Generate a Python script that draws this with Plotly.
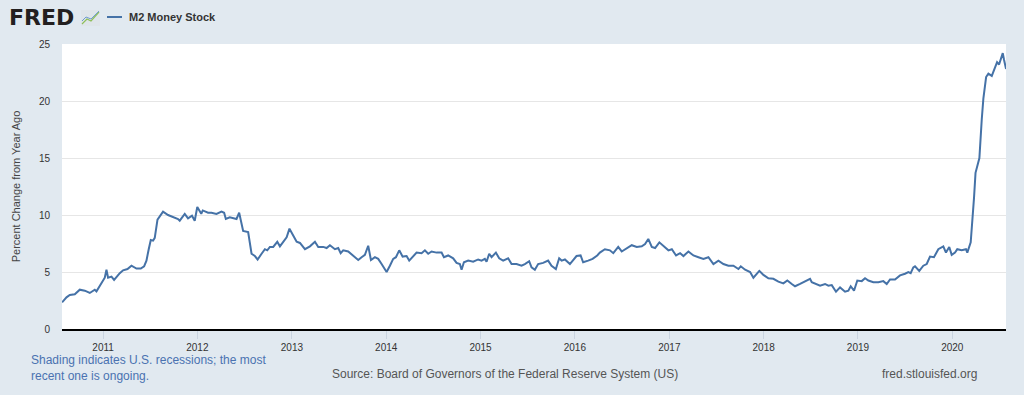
import numpy as np
import pandas as pd
import plotly.graph_objects as go

# ---------------- data ----------------
series_name = "M2 Money Stock"
y_title = "Percent Change from Year Ago"

# observation times as decimal years
decimal_years = [
    2010.565, 2010.612, 2010.647, 2010.700, 2010.753, 2010.806, 2010.859, 2010.912, 2010.930, 2010.983,
    2011.018, 2011.036, 2011.053, 2011.089, 2011.117, 2011.177, 2011.212, 2011.259, 2011.301, 2011.354,
    2011.400, 2011.435, 2011.460, 2011.484, 2011.506, 2011.530, 2011.548, 2011.577, 2011.636, 2011.689,
    2011.742, 2011.795, 2011.813, 2011.866, 2011.901, 2011.943, 2011.972, 2011.999, 2012.041, 2012.057,
    2012.113, 2012.149, 2012.202, 2012.255, 2012.283, 2012.301, 2012.343, 2012.389, 2012.414, 2012.442,
    2012.484, 2012.537, 2012.573, 2012.608, 2012.637, 2012.679, 2012.714, 2012.739, 2012.767, 2012.802,
    2012.845, 2012.873, 2012.908, 2012.944, 2012.974, 2013.014, 2013.050, 2013.085, 2013.138, 2013.191,
    2013.244, 2013.279, 2013.332, 2013.368, 2013.403, 2013.456, 2013.491, 2013.517, 2013.544, 2013.597,
    2013.650, 2013.703, 2013.739, 2013.774, 2013.809, 2013.838, 2013.880, 2013.915, 2013.951, 2014.004,
    2014.039, 2014.074, 2014.103, 2014.138, 2014.174, 2014.216, 2014.244, 2014.286, 2014.322, 2014.375,
    2014.410, 2014.445, 2014.481, 2014.534, 2014.587, 2014.612, 2014.657, 2014.710, 2014.746, 2014.781,
    2014.799, 2014.824, 2014.869, 2014.922, 2014.975, 2015.011, 2015.046, 2015.064, 2015.092, 2015.117,
    2015.163, 2015.198, 2015.240, 2015.293, 2015.329, 2015.382, 2015.435, 2015.470, 2015.516, 2015.541,
    2015.576, 2015.611, 2015.664, 2015.717, 2015.753, 2015.799, 2015.834, 2015.860, 2015.895, 2015.948,
    2015.982, 2016.018, 2016.061, 2016.088, 2016.141, 2016.188, 2016.237, 2016.265, 2016.318, 2016.371,
    2016.407, 2016.459, 2016.496, 2016.549, 2016.602, 2016.655, 2016.708, 2016.743, 2016.777, 2016.814,
    2016.849, 2016.894, 2016.937, 2016.990, 2017.026, 2017.071, 2017.114, 2017.149, 2017.202, 2017.255,
    2017.308, 2017.361, 2017.414, 2017.467, 2017.520, 2017.573, 2017.626, 2017.679, 2017.732, 2017.757,
    2017.803, 2017.856, 2017.891, 2017.954, 2017.997, 2018.050, 2018.103, 2018.156, 2018.209, 2018.251,
    2018.298, 2018.333, 2018.386, 2018.439, 2018.492, 2018.510, 2018.563, 2018.598, 2018.651, 2018.686,
    2018.722, 2018.767, 2018.810, 2018.863, 2018.898, 2018.923, 2018.958, 2018.993, 2019.040, 2019.075,
    2019.110, 2019.163, 2019.216, 2019.269, 2019.305, 2019.340, 2019.393, 2019.446, 2019.499, 2019.534,
    2019.559, 2019.587, 2019.605, 2019.650, 2019.693, 2019.729, 2019.764, 2019.806, 2019.852, 2019.905,
    2019.933, 2019.968, 2019.994, 2020.029, 2020.053, 2020.100, 2020.145, 2020.159, 2020.195, 2020.209,
    2020.230, 2020.246, 2020.268, 2020.287, 2020.312, 2020.329, 2020.358, 2020.382, 2020.418, 2020.453,
    2020.474, 2020.495, 2020.534, 2020.548, 2020.569,
]

pct_change = [
    2.34, 2.78, 2.98, 3.04, 3.45, 3.36, 3.16, 3.45, 3.30, 4.10,
    4.50, 5.20, 4.50, 4.60, 4.30, 4.90, 5.15, 5.26, 5.55, 5.30,
    5.30, 5.50, 6.00, 7.00, 7.80, 7.75, 8.00, 9.60, 10.30, 10.00,
    9.85, 9.65, 9.50, 10.10, 9.70, 9.94, 9.50, 10.70, 10.10, 10.40,
    10.20, 10.20, 10.10, 10.30, 10.20, 9.65, 9.80, 9.70, 9.65, 10.20,
    8.60, 8.50, 6.60, 6.40, 6.10, 6.60, 7.00, 6.90, 7.20, 7.20,
    7.65, 7.25, 7.60, 8.05, 8.80, 8.20, 7.65, 7.55, 7.00, 7.25,
    7.65, 7.20, 7.20, 7.10, 7.35, 7.00, 7.10, 6.65, 6.90, 6.80,
    6.45, 6.05, 6.30, 6.50, 7.30, 6.05, 6.30, 6.15, 5.70, 5.00,
    5.55, 6.15, 6.30, 6.90, 6.35, 6.40, 6.00, 6.40, 6.70, 6.65,
    6.90, 6.60, 6.80, 6.70, 6.70, 6.30, 6.45, 6.20, 5.80, 5.70,
    5.20, 5.85, 6.00, 5.90, 6.10, 6.00, 6.15, 5.90, 6.60, 6.30,
    6.70, 6.20, 6.00, 6.20, 5.70, 5.70, 5.55, 5.70, 5.95, 5.40,
    5.20, 5.70, 5.80, 6.00, 5.55, 5.26, 6.20, 6.00, 6.10, 5.70,
    6.00, 6.40, 6.45, 5.85, 6.00, 6.15, 6.45, 6.70, 7.00, 6.90,
    6.65, 7.20, 6.80, 7.10, 7.35, 7.20, 7.25, 7.45, 7.90, 7.20,
    7.10, 7.60, 7.30, 6.90, 7.00, 6.45, 6.65, 6.40, 6.80, 6.45,
    6.30, 6.15, 6.30, 5.70, 6.00, 5.70, 5.55, 5.55, 5.26, 5.50,
    5.20, 5.00, 4.50, 5.10, 4.75, 4.45, 4.40, 4.15, 4.00, 4.25,
    3.95, 3.75, 3.95, 4.15, 4.40, 4.10, 3.95, 3.80, 3.95, 3.80,
    3.85, 3.27, 3.65, 3.27, 3.36, 3.75, 3.36, 4.25, 4.20, 4.45,
    4.25, 4.10, 4.10, 4.20, 3.95, 4.35, 4.35, 4.70, 4.85, 5.00,
    4.90, 5.40, 5.50, 5.10, 5.55, 5.70, 6.35, 6.30, 7.00, 7.25,
    6.70, 7.20, 6.50, 6.70, 7.00, 6.90, 7.00, 6.70, 7.60, 9.00,
    11.50, 13.70, 14.40, 15.00, 18.40, 20.20, 22.10, 22.40, 22.20, 22.90,
    23.40, 23.20, 24.20, 23.60, 22.80,
]

x_start = "2010-07-26"
x_end = "2020-07-27"
tick_years = [2011, 2012, 2013, 2014, 2015, 2016, 2017, 2018, 2019, 2020]
y_ticks = [0, 5, 10, 15, 20, 25]

note_text = "Shading indicates U.S. recessions; the most<br>recent one is ongoing."
source_text = "Source: Board of Governors of the Federal Reserve System (US)"
site_text = "fred.stlouisfed.org"


def to_date(t):
    yr = int(np.floor(t))
    a = pd.Timestamp(year=yr, month=1, day=1)
    b = pd.Timestamp(year=yr + 1, month=1, day=1)
    return a + (b - a) * (t - yr)


dates = [to_date(t) for t in decimal_years]

# ---------------- layout geometry ----------------
W, H = 1024, 395
L, R, T, B = 62, 18, 44, 66
PW, PH = W - L - R, H - T - B


def fx(px):
    return (px - L) / PW


def fy(py):
    return (H - B - py) / PH


FONT = "Liberation Sans, Arial, sans-serif"
LINE_COLOR = "#4572a7"

fig = go.Figure()
fig.add_trace(go.Scatter(
    x=dates, y=pct_change, mode="lines", name=series_name,
    line=dict(color=LINE_COLOR, width=2), showlegend=False,
))

fig.update_layout(
    width=W, height=H,
    margin=dict(l=L, r=R, t=T, b=B, pad=0, autoexpand=False),
    paper_bgcolor="#e1e9f0",
    plot_bgcolor="#ffffff",
    font=dict(family=FONT, size=10, color="#333333"),
    xaxis=dict(
        type="date",
        range=[x_start, x_end],
        tickvals=[f"{y}-01-01" for y in tick_years],
        ticktext=[str(y) for y in tick_years],
        ticks="outside", ticklen=8, tickcolor="#c9d4e0", tickwidth=1,
        showgrid=False, zeroline=False,
        showline=True, linecolor="#000000", linewidth=2,
        tickfont=dict(size=10, color="#333333"),
        automargin=False,
        fixedrange=True,
    ),
    yaxis=dict(
        range=[0, 25],
        tickvals=y_ticks,
        showgrid=True, gridcolor="#e6e6e6", gridwidth=1,
        zeroline=False, showline=False, ticks="",
        ticklabelstandoff=11,
        tickfont=dict(size=10, color="#333333"),
        title=dict(text=y_title, font=dict(size=11, color="#444444"), standoff=16),
        automargin=False,
        fixedrange=True,
    ),
    showlegend=False,
)

annotations = [
    dict(text="<b>FRED</b>", x=fx(7), y=fy(18), xref="paper", yref="paper",
         xanchor="left", yanchor="middle", showarrow=False,
         font=dict(family="DejaVu Sans, Arial Black, sans-serif", size=22, color="#231f20")),
    dict(text="<b>" + series_name + "</b>", x=fx(127), y=fy(17), xref="paper", yref="paper",
         xanchor="left", yanchor="middle", showarrow=False,
         font=dict(family=FONT, size=11, color="#333333")),
    dict(text=note_text, x=fx(29), y=fy(351), xref="paper", yref="paper",
         xanchor="left", yanchor="top", align="left", showarrow=False,
         font=dict(family=FONT, size=12, color="#4a72b0")),
    dict(text=source_text, x=fx(330), y=fy(374), xref="paper", yref="paper",
         xanchor="left", yanchor="middle", showarrow=False,
         font=dict(family=FONT, size=12, color="#555555")),
    dict(text=site_text, x=fx(979), y=fy(374), xref="paper", yref="paper",
         xanchor="right", yanchor="middle", showarrow=False,
         font=dict(family=FONT, size=12, color="#555555")),
]
fig.update_layout(annotations=annotations)

shapes = [
    # legend swatch
    dict(type="line", xref="paper", yref="paper", x0=fx(107), x1=fx(122), y0=fy(17), y1=fy(17),
         line=dict(color=LINE_COLOR, width=2)),
    # FRED logo graph icon
    dict(type="rect", xref="paper", yref="paper", x0=fx(81), x1=fx(100), y0=fy(26), y1=fy(10),
         fillcolor="#dfe5ea", line=dict(width=0)),
    dict(type="path", xref="paper", yref="paper",
         path=f"M {fx(82)},{fy(24)} L {fx(87)},{fy(19)} L {fx(91)},{fy(21)} L {fx(99)},{fy(12)}",
         line=dict(color="#8fbf5a", width=1.2)),
    dict(type="path", xref="paper", yref="paper",
         path=f"M {fx(82)},{fy(21)} L {fx(86)},{fy(17)} L {fx(91)},{fy(19)} L {fx(99)},{fy(11)}",
         line=dict(color="#6f9bcf", width=1.0)),
]
fig.update_layout(shapes=shapes)

fig.write_html(
    "out.html",
    config={"displayModeBar": False},
    post_script="document.body.style.margin='0';document.body.style.padding='0';document.body.style.background='#e1e9f0';",
)
